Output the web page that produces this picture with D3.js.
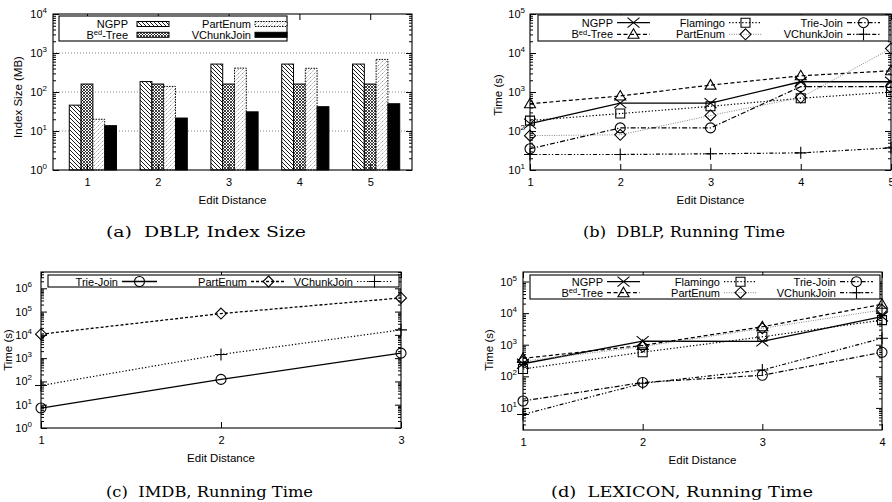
<!DOCTYPE html>
<html lang="en">
<head>
<meta charset="UTF-8">
<title>Similarity join: index size and running time</title>
<script src="https://d3js.org/d3.v7.min.js"></script>
<style>
  body { margin: 0; background: #fff; }
  svg { display: block; font-family: "Liberation Sans", Arial, Helvetica, sans-serif; }
</style>
</head>
<body>
<svg width="892" height="502"></svg>
<script>
// ---------- data ----------
const dist5 = [1, 2, 3, 4, 5];
const dist4 = [1, 2, 3, 4];
const dist3 = [1, 2, 3];

// (a) DBLP, index size (MB)
const sizeNGPP     = [46, 185, 520, 520, 520];
const sizeBedTree  = [160, 160, 160, 160, 160];
const sizePartEnum = [20, 139, 410, 405, 685];
const sizeVChunk   = [13.7, 21.5, 31, 42, 50];

// (b) DBLP, running time (s)
const dblpNGPP     = [155, 520, 520, 1830, 1830];
const dblpBedTree  = [500, 790, 1500, 2600, 3500];
const dblpFlamingo = [185, 280, 430, 690, 1000];
const dblpTrieJoin = [35, 120, 120, 1370, 1370];
const dblpPartEnum = [76, 80, 250, 720, 13000];
const dblpVChunk   = [25, 25, 26, 27.5, 37];

// (c) IMDB, running time (s)
const imdbTrieJoin = [7.2, 122, 1640];
const imdbPartEnum = [10700, 82000, 386000];
const imdbVChunk   = [67, 1440, 16400];

// (d) LEXICON, running time (s)
const lexNGPP      = [250, 1300, 1280, 7800];
const lexBedTree   = [370, 950, 3700, 19000];
const lexFlamingo  = [170, 580, 1780, 6000];
const lexPartEnum  = [300, 870, 3300, 12600];
const lexTrieJoin  = [16.5, 64, 108, 575];
const lexVChunk    = [6.2, 60, 158, 1600];

// y tick exponents (labels 10^k)
const aYExps = [0, 1, 2, 3, 4];
const bYExps = [1, 2, 3, 4, 5];
const cYExps = [0, 1, 2, 3, 4, 5, 6];
const dYExps = [1, 2, 3, 4, 5];

// ---------- styles ----------
const ST = {
  solid:   { dash: null, width: 1.3, color: "#000" },
  dashed:  { dash: "4,2.5", width: 1.2, color: "#000" },
  dotted:  { dash: "1.3,2", width: 1.2, color: "#000" },
  dashdot: { dash: "5,2,1.3,2", width: 1.2, color: "#000" },
  grayDot: { dash: "1,1.4", width: 0.9, color: "#777" },
  dashdd:  { dash: "4,2,1.3,2,1.3,2", width: 1.2, color: "#000" }
};
const LEGEND_FS = 11;
const TICK_FS = 11;

const svg = d3.select("svg");
const defs = svg.append("defs");

function addPattern(id, w, draw) {
  const p = defs.append("pattern").attr("id", id)
    .attr("patternUnits", "userSpaceOnUse").attr("width", w).attr("height", w);
  p.append("rect").attr("width", w).attr("height", w).attr("fill", "#fff");
  draw(p);
}
addPattern("hatchNGPP", 4, p => p.append("path")
  .attr("d", "M-1,-1L5,5M-1,3L1,5M3,-1L5,1").attr("stroke", "#000").attr("stroke-width", 0.9));
addPattern("meshBed", 3, p => p.append("path")
  .attr("d", "M-1,-1L4,4M-1,2L1,4M2,-1L4,1M-1,4L4,-1M-1,1L1,-1M2,4L4,2")
  .attr("stroke", "#111").attr("stroke-width", 0.8));
addPattern("dotsPart", 4, p => p.append("path")
  .attr("d", "M-1,5L5,-1M-1,1L1,-1M3,5L5,3").attr("stroke", "#777")
  .attr("stroke-width", 0.9).attr("stroke-dasharray", "1.2,1"));

// text with "B^ed-Tree" style superscripts
function seriesLabel(t, name) {
  if (name === "Bed-Tree") {
    t.append("tspan").text("B");
    t.append("tspan").attr("dy", -3.5).attr("font-size", 7.5).text("ed");
    t.append("tspan").attr("dy", 3.5).text("-Tree");
  } else t.text(name);
}

function marker(g, type, cx, cy) {
  const m = g.append("g").attr("transform", `translate(${cx},${cy})`)
    .attr("fill", "none").attr("stroke", "#000").attr("stroke-width", 1.1);
  if (type === "circ") { m.append("circle").attr("r", 5); return; }
  const d = {
    x: "M-6,-5L6,5M-6,5L6,-5",
    tri: "M0,-5.5L5.5,4L-5.5,4Z",
    sq: "M-4.5,-4.5H4.5V4.5H-4.5Z",
    dia: "M0,-5.5L5.5,0L0,5.5L-5.5,0Z",
    plus: "M-6,0H6M0,-6V6"
  }[type];
  m.append("path").attr("d", d);
}

// gnuplot-like frame: inward ticks on all four sides, log minors on y
function frame(g, x, y, box, xTicks, yExps, yLabelGap) {
  const yd = y.domain();
  const minors = [];
  for (let e = Math.floor(Math.log10(yd[0])); e <= Math.ceil(Math.log10(yd[1])); e++)
    for (let k = 2; k <= 9; k++) {
      const v = k * Math.pow(10, e);
      if (v > yd[0] && v < yd[1]) minors.push(v);
    }
  const majors = yExps.map(e => Math.pow(10, e));
  const clean = s => { s.select(".domain").remove(); s.selectAll("text").remove(); };

  g.append("g").attr("transform", `translate(${box.l},0)`)
    .call(d3.axisLeft(y).tickValues(majors).tickSize(-6)).call(clean);
  g.append("g").attr("transform", `translate(${box.r},0)`)
    .call(d3.axisRight(y).tickValues(majors).tickSize(-6)).call(clean);
  g.append("g").attr("transform", `translate(${box.l},0)`)
    .call(d3.axisLeft(y).tickValues(minors).tickSize(-3)).call(clean);
  g.append("g").attr("transform", `translate(${box.r},0)`)
    .call(d3.axisRight(y).tickValues(minors).tickSize(-3)).call(clean);
  g.append("g").attr("transform", `translate(0,${box.t})`)
    .call(d3.axisTop(x).tickValues(xTicks).tickSize(-6)).call(clean);
  const xb = g.append("g").attr("transform", `translate(0,${box.b})`)
    .call(d3.axisBottom(x).tickValues(xTicks).tickSize(-6).tickPadding(8).tickFormat(d3.format("d")));
  xb.select(".domain").remove();
  xb.attr("font-size", TICK_FS).attr("font-family", null);

  g.append("rect").attr("x", box.l).attr("y", box.t)
    .attr("width", box.r - box.l).attr("height", box.b - box.t)
    .attr("fill", "none").attr("stroke", "#000").attr("stroke-width", 1.1);

  yExps.forEach(e => {
    const t = g.append("text").attr("x", box.l - yLabelGap).attr("y", y(Math.pow(10, e)) + 4)
      .attr("text-anchor", "end").attr("font-size", TICK_FS);
    t.append("tspan").text("10");
    t.append("tspan").attr("dy", -5).attr("font-size", 8).text(e);
  });
}

function axisTitles(g, box, yTitle, yx, yy) {
  g.append("text").attr("x", (box.l + box.r) / 2).attr("y", box.b + 34)
    .attr("text-anchor", "middle").attr("font-size", 11.5).text("Edit Distance");
  g.append("text").attr("transform", `translate(${yx},${yy}) rotate(-90)`)
    .attr("dy", "0.35em").attr("text-anchor", "middle").attr("font-size", 11.5).text(yTitle);
}

function caption(txt, x0, w, yb) {
  svg.append("text").attr("x", x0).attr("y", yb)
    .attr("font-family", "'DejaVu Serif', 'Liberation Serif', serif").attr("font-size", 15)
    .attr("textLength", w).attr("lengthAdjust", "spacingAndGlyphs").text(txt);
}

function legendBox(g, lb) {
  g.append("rect").attr("x", lb.l).attr("y", lb.t).attr("width", lb.r - lb.l)
    .attr("height", lb.b - lb.t).attr("fill", "#fff").attr("stroke", "#000").attr("stroke-width", 1.1);
}

// ---------- line panels ----------
function linePanel(o) {
  const g = svg.append("g");
  const x = d3.scaleLinear().domain([o.xs[0], o.xs[o.xs.length - 1]]).range([o.box.l, o.box.r]);
  const y = d3.scaleLog().domain(o.yDomain).range([o.box.b, o.box.t]);
  const line = d3.line().x((d, i) => x(o.xs[i])).y(d => y(d));

  o.series.forEach(s => {
    g.append("path").attr("d", line(s.values)).attr("fill", "none")
      .attr("stroke", s.style.color).attr("stroke-width", s.style.width)
      .attr("stroke-dasharray", s.style.dash);
    s.values.forEach((v, i) => marker(g, s.marker, x(o.xs[i]), y(v)));
  });

  frame(g, x, y, o.box, o.xs, o.yExps, o.yLabelGap);

  legendBox(g, o.legend.box);
  o.series.forEach(s => {
    const end = o.legend.cols[s.col], cy = o.legend.rows[s.row];
    const sx0 = end + 4, sx1 = end + 4 + o.legend.len;
    const t = g.append("text").attr("x", end).attr("y", cy + 4)
      .attr("text-anchor", "end").attr("font-size", LEGEND_FS);
    seriesLabel(t, s.name);
    g.append("line").attr("x1", sx0).attr("x2", sx1).attr("y1", cy).attr("y2", cy)
      .attr("stroke", s.style.color).attr("stroke-width", s.style.width)
      .attr("stroke-dasharray", s.style.dash);
    marker(g, s.marker, (sx0 + sx1) / 2, cy);
  });

  axisTitles(g, o.box, "Time (s)", o.yTitle[0], o.yTitle[1]);
}

// ---------- (a) bar panel ----------
(function () {
  const box = { l: 53, r: 412, t: 14, b: 170 };
  const g = svg.append("g");
  const x = d3.scaleLinear().domain([0.52, 5.59]).range([box.l, box.r]);
  const y = d3.scaleLog().domain([1, 1e4]).range([box.b, box.t]);
  const bw = (x(2) - x(1)) / 6;

  [1, 2, 3].forEach(e => g.append("line").attr("x1", box.l).attr("x2", box.r)
    .attr("y1", y(Math.pow(10, e))).attr("y2", y(Math.pow(10, e)))
    .attr("stroke", "#555").attr("stroke-width", 0.7).attr("stroke-dasharray", "1,2"));

  const bars = [
    { name: "NGPP", values: sizeNGPP, fill: "url(#hatchNGPP)", dash: null, col: 0, row: 0 },
    { name: "Bed-Tree", values: sizeBedTree, fill: "url(#meshBed)", dash: null, col: 0, row: 1 },
    { name: "PartEnum", values: sizePartEnum, fill: "url(#dotsPart)", dash: "1.5,1.2", col: 1, row: 0 },
    { name: "VChunkJoin", values: sizeVChunk, fill: "#000", dash: null, col: 1, row: 1 }
  ];
  bars.forEach((s, j) => {
    g.selectAll(null).data(s.values).join("rect")
      .attr("x", (d, i) => x(dist5[i]) + (j - 1.5) * bw)
      .attr("width", bw)
      .attr("y", d => y(d))
      .attr("height", d => y(1) - y(d))
      .attr("fill", s.fill).attr("stroke", "#000").attr("stroke-width", 1)
      .attr("stroke-dasharray", s.dash);
  });

  frame(g, x, y, box, dist5, aYExps, 6);

  const lb = { l: 59, r: 287, t: 16, b: 41 };
  legendBox(g, lb);
  const cols = [128, 251], rows = [24, 34.8], sampleX = [137, 255];
  bars.forEach(s => {
    const t = g.append("text").attr("x", cols[s.col]).attr("y", rows[s.row] + 4)
      .attr("text-anchor", "end").attr("font-size", LEGEND_FS);
    seriesLabel(t, s.name);
    g.append("rect").attr("x", sampleX[s.col]).attr("y", rows[s.row] - 2.5)
      .attr("width", 32).attr("height", 5)
      .attr("fill", s.fill).attr("stroke", "#000").attr("stroke-width", 1)
      .attr("stroke-dasharray", s.dash);
  });

  axisTitles(g, box, "Index Size (MB)", 18, 97);
})();

// (b)
linePanel({
  box: { l: 530, r: 891, t: 14, b: 170 }, xs: dist5, yDomain: [10, 1e5], yExps: bYExps, yLabelGap: 5,
  series: [
    { name: "NGPP", values: dblpNGPP, style: ST.solid, marker: "x", col: 0, row: 0 },
    { name: "Bed-Tree", values: dblpBedTree, style: ST.dashed, marker: "tri", col: 0, row: 1 },
    { name: "Flamingo", values: dblpFlamingo, style: ST.dotted, marker: "sq", col: 1, row: 0 },
    { name: "PartEnum", values: dblpPartEnum, style: ST.grayDot, marker: "dia", col: 1, row: 1 },
    { name: "Trie-Join", values: dblpTrieJoin, style: ST.dashdot, marker: "circ", col: 2, row: 0 },
    { name: "VChunkJoin", values: dblpVChunk, style: ST.dashdd, marker: "plus", col: 2, row: 1 }
  ],
  legend: { box: { l: 538, r: 889, t: 15, b: 41 }, cols: [613, 725, 843], rows: [22.7, 34.3], len: 33 },
  yTitle: [497.5, 95]
});

// (c)
linePanel({
  box: { l: 41, r: 401, t: 272, b: 428 }, xs: dist3, yDomain: [1, Math.pow(10, 6.7)], yExps: cYExps, yLabelGap: 9,
  series: [
    { name: "Trie-Join", values: imdbTrieJoin, style: ST.solid, marker: "circ", col: 0, row: 0 },
    { name: "PartEnum", values: imdbPartEnum, style: { dash: "3,2", width: 1.3, color: "#000" }, marker: "dia", col: 1, row: 0 },
    { name: "VChunkJoin", values: imdbVChunk, style: ST.dotted, marker: "plus", col: 2, row: 0 }
  ],
  legend: { box: { l: 48, r: 399, t: 275, b: 287 }, cols: [118, 247, 353], rows: [281.5], len: 35 },
  yTitle: [7.5, 350]
});

// (d)
linePanel({
  box: { l: 523, r: 882, t: 272, b: 430 }, xs: dist4, yDomain: [2, 2e5], yExps: dYExps, yLabelGap: 6,
  series: [
    { name: "NGPP", values: lexNGPP, style: ST.solid, marker: "x", col: 0, row: 0 },
    { name: "Bed-Tree", values: lexBedTree, style: ST.dashed, marker: "tri", col: 0, row: 1 },
    { name: "Flamingo", values: lexFlamingo, style: ST.dotted, marker: "sq", col: 1, row: 0 },
    { name: "PartEnum", values: lexPartEnum, style: ST.grayDot, marker: "dia", col: 1, row: 1 },
    { name: "Trie-Join", values: lexTrieJoin, style: ST.dashdot, marker: "circ", col: 2, row: 0 },
    { name: "VChunkJoin", values: lexVChunk, style: ST.dashdd, marker: "plus", col: 2, row: 1 }
  ],
  legend: { box: { l: 530, r: 880, t: 275, b: 299 }, cols: [603, 720, 836], rows: [281.7, 292.7], len: 33 },
  yTitle: [489, 350]
});

// captions
caption("(a)\u00a0\u00a0DBLP, Index Size", 106, 200, 237);
caption("(b)\u00a0\u00a0DBLP, Running Time", 583, 202, 237);
caption("(c)\u00a0\u00a0IMDB, Running Time", 106, 207, 497);
caption("(d)\u00a0\u00a0LEXICON, Running Time", 551, 262, 497);
</script>
</body>
</html>
